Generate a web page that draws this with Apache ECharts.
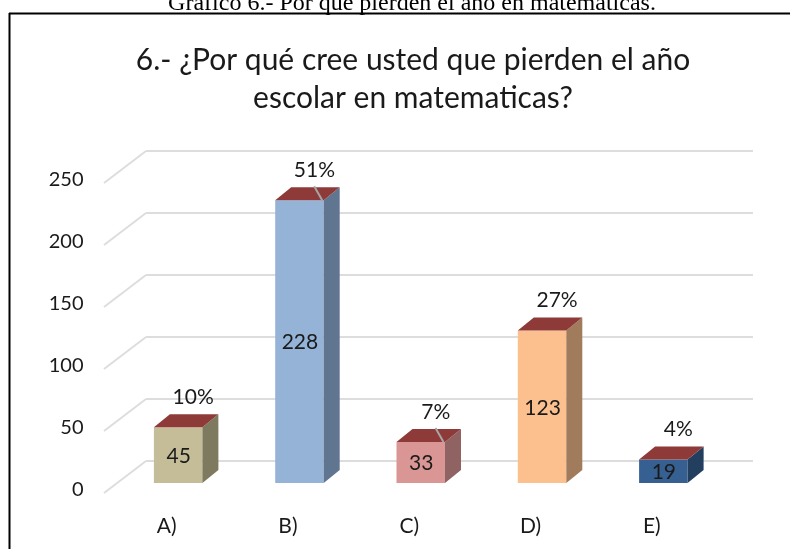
<!DOCTYPE html>
<html>
<head>
<meta charset="utf-8">
<style>html,body{margin:0;padding:0;background:#fff;overflow:hidden}#c{width:790px;height:549px}</style>
<script src="https://cdn.jsdelivr.net/npm/echarts@6/dist/echarts.min.js"></script>
</head>
<body>
<div id="c"></div>
<script>
const categories = ['A)', 'B)', 'C)', 'D)', 'E)'];
const counts = [45, 228, 33, 123, 19];
const percents = ['10%', '51%', '7%', '27%', '4%'];
const hasLeader = [false, true, true, false, false];
const yTicks = [0, 50, 100, 150, 200, 250];
const frontColors = ['#C4BD97', '#95B3D7', '#D99694', '#FCC08F', '#376092'];
const sideColors = ['#7E7A60', '#5F7590', '#8F6362', '#A17C5C', '#233F60'];
const topColor = '#8E3A38';
const gridColor = '#DDDDDD';
const captionText = 'Gráfico 6.- Por qué pierden el año en matemáticas.';
const titleText = '6.- ¿Por qué cree usted que pierden el año\nescolar en matematicas?';
const FONT = 'Lato, "Open Sans", sans-serif';
const TEXT = '#1a1a1a';

const chart = echarts.init(document.getElementById('c'), null, { renderer: 'canvas' });

function renderGrid(params, api) {
  const v = api.value(0);
  const cs = params.coordSys;
  const y = api.coord([0, v])[1];
  const x0 = cs.x, x1 = cs.x + cs.width;
  const style = { stroke: gridColor, lineWidth: 2, fill: null };
  return {
    type: 'group',
    silent: true,
    children: [
      { type: 'line', shape: { x1: x0 - 13.5, y1: y + 10, x2: x0 + 28.5, y2: y - 22 }, style },
      { type: 'line', shape: { x1: x0 + 28.5, y1: y - 22, x2: x1 + 29, y2: y - 22 }, style }
    ]
  };
}

function renderBar(params, api) {
  const i = params.dataIndex;
  const top = api.coord([i, api.value(1)]);
  const base = api.coord([i, 0]);
  const w = 48.5, dx = 16, dy = 13;
  const l = top[0] - w / 2, r = top[0] + w / 2, t = top[1], b = base[1];
  const children = [
    { type: 'rect', shape: { x: l, y: t, width: w, height: b - t }, style: { fill: frontColors[i] } },
    { type: 'polygon', shape: { points: [[r, t], [r + dx, t - dy], [r + dx, b - dy], [r, b]] }, style: { fill: sideColors[i] } },
    { type: 'polygon', shape: { points: [[l, t], [l + dx, t - dy], [r + dx, t - dy], [r, t]] }, style: { fill: topColor } },
    { type: 'text', x: top[0] + 0.5, y: (t + b) / 2 + 1, style: { text: String(counts[i]), fill: TEXT, font: '21px ' + FONT, align: 'center', verticalAlign: 'middle' } },
    { type: 'text', x: top[0] + 15, y: t - 30, style: { text: percents[i], fill: TEXT, font: '21px ' + FONT, align: 'center', verticalAlign: 'middle' } }
  ];
  if (hasLeader[i]) {
    children.push({ type: 'line', shape: { x1: r - 1.5, y1: t, x2: r - 9.5, y2: t - 14 }, style: { stroke: '#A6A6A6', lineWidth: 2 } });
  }
  return { type: 'group', silent: true, children };
}

chart.setOption({
  animation: false,
  backgroundColor: '#fff',
  title: [
    { text: captionText, left: 407, top: -13, textAlign: 'center',
      textStyle: { fontFamily: '"Liberation Serif", serif', fontSize: 24, fontWeight: 'normal', color: '#000' } },
    { text: titleText, left: 408, top: 36, textAlign: 'center',
      textStyle: { fontFamily: FONT, fontSize: 30, fontWeight: 'normal', color: TEXT, lineHeight: 38 } }
  ],
  grid: { left: 117.5, width: 606.5, top: 173, height: 310 },
  xAxis: {
    type: 'category',
    data: categories,
    axisLine: { show: false },
    axisTick: { show: false },
    splitLine: { show: false },
    axisLabel: { margin: 33, padding: [0, 23, 0, 0], color: TEXT, fontFamily: FONT, fontSize: 21 }
  },
  yAxis: {
    type: 'value',
    min: 0,
    max: 250,
    interval: 50,
    axisLine: { show: false },
    axisTick: { show: false },
    splitLine: { show: false },
    axisLabel: { margin: 34, verticalAlign: 'top', lineHeight: 14, color: TEXT, fontFamily: FONT, fontSize: 20 }
  },
  graphic: [
    { type: 'line', silent: true, z: 10, shape: { x1: 9, y1: 13.5, x2: 790, y2: 13.5 }, style: { stroke: '#000', lineWidth: 2 } },
    { type: 'line', silent: true, z: 10, shape: { x1: 9.5, y1: 13, x2: 9.5, y2: 549 }, style: { stroke: '#000', lineWidth: 2 } }
  ],
  series: [
    { type: 'custom', z: 1, clip: false, renderItem: renderGrid, data: yTicks.map(v => [v]), encode: { y: 0 } },
    { type: 'custom', z: 2, clip: false, renderItem: renderBar, data: counts.map((v, i) => [i, v]), encode: { x: 0, y: 1 } }
  ]
});
</script>
</body>
</html>
